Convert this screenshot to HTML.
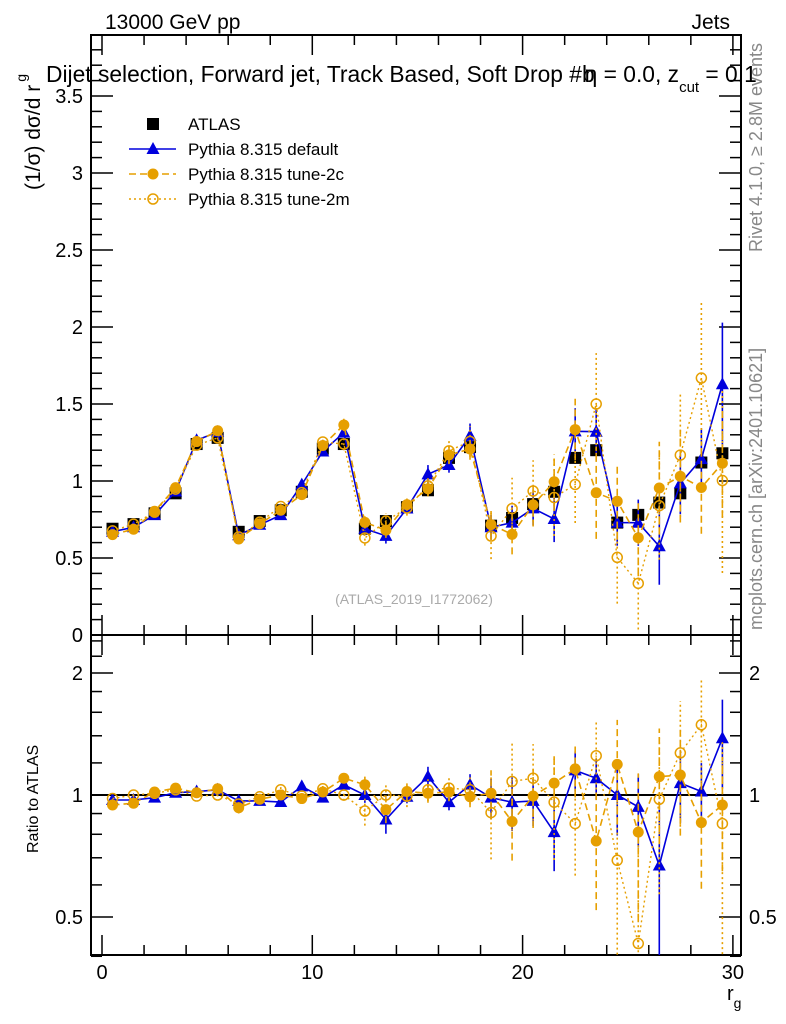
<!DOCTYPE html>
<html><head><meta charset="utf-8">
<style>
body{margin:0;background:#fff;overflow:hidden;}
svg{display:block;font-family:"Liberation Sans",sans-serif;}
</style></head>
<body>
<svg id="c" width="786" height="1024" viewBox="0 0 786 1024">
<text x="105" y="29" font-size="21">13000 GeV pp</text>
<text x="730" y="29" font-size="21" text-anchor="end">Jets</text>
<text x="46" y="82" font-size="22.8">Dijet selection, Forward jet, Track Based, Soft Drop #b<tspan dx="-10">η = 0.0, z</tspan><tspan font-size="15" dy="10">cut</tspan><tspan dy="-10"> = 0.1</tspan></text>
<g transform="translate(762,252) rotate(-90)"><text font-size="18" fill="#888">Rivet 4.1.0, ≥ 2.8M events</text></g>
<g transform="translate(762,630) rotate(-90)"><text font-size="18" fill="#888">mcplots.cern.ch [arXiv:2401.10621]</text></g>
<g transform="translate(40,190) rotate(-90)"><text font-size="21">(1/σ) dσ/d r<tspan font-size="14" dy="-14" dx="3">g</tspan></text></g>
<g transform="translate(38,853) rotate(-90)"><text font-size="16">Ratio to ATLAS</text></g>
<text x="727" y="1000" font-size="20">r<tspan font-size="14" dy="8">g</tspan></text>
<text x="414" y="604" font-size="14" fill="#aaa" text-anchor="middle">(ATLAS_2019_I1772062)</text>
<g id="legend"></g>
<g id="main"></g>
<g id="ratio"></g>
</svg>
<script>
const xCenters=[0.5,1.5,2.5,3.5,4.5,5.5,6.5,7.5,8.5,9.5,10.5,11.5,12.5,13.5,14.5,15.5,16.5,17.5,18.5,19.5,20.5,21.5,22.5,23.5,24.5,25.5,26.5,27.5,28.5,29.5];
const atlas=[0.69,0.72,0.79,0.92,1.24,1.28,0.67,0.74,0.81,0.93,1.21,1.24,0.69,0.74,0.83,0.94,1.15,1.22,0.71,0.76,0.85,0.93,1.15,1.20,0.73,0.78,0.86,0.92,1.12,1.18];
const ratioDefault=[0.972,0.972,0.985,1.013,1.02,1.03,0.967,0.967,0.961,1.05,0.985,1.06,1.0,0.87,0.99,1.11,0.96,1.06,0.985,0.96,0.967,0.81,1.15,1.10,1.0,0.935,0.67,1.07,1.02,1.38];
const ratioTune2c=[0.945,0.954,1.017,1.04,1.013,1.036,0.93,0.976,1.0,0.98,1.017,1.1,1.06,0.92,1.02,1.01,1.017,0.99,1.01,0.86,0.994,1.07,1.16,0.77,1.19,0.81,1.11,1.12,0.855,0.945];
const ratioTune2m=[0.98,1.0,1.01,1.03,0.994,1.0,0.95,0.99,1.03,0.994,1.036,1.0,0.913,1.0,0.994,1.03,1.04,1.03,0.905,1.08,1.1,0.96,0.85,1.25,0.69,0.43,0.976,1.27,1.49,0.85];
const errDefault=[0.01,0.01,0.01,0.01,0.01,0.01,0.01,0.01,0.01,0.02,0.02,0.03,0.03,0.05,0.03,0.06,0.05,0.08,0.08,0.11,0.11,0.15,0.15,0.15,0.15,0.15,0.25,0.2,0.2,0.4];
const errTune2c=[0.01,0.01,0.01,0.01,0.01,0.01,0.02,0.02,0.02,0.02,0.03,0.04,0.04,0.05,0.04,0.05,0.06,0.07,0.1,0.13,0.14,0.18,0.2,0.3,0.25,0.25,0.3,0.3,0.3,0.35];
const errTune2m=[0.01,0.01,0.01,0.01,0.01,0.01,0.02,0.02,0.02,0.03,0.03,0.04,0.05,0.05,0.05,0.06,0.08,0.1,0.15,0.2,0.2,0.25,0.25,0.33,0.3,0.3,0.35,0.4,0.5,0.6];
const yTicksMain=[0,0.5,1,1.5,2,2.5,3,3.5];
const yTickLabelsMain=["0","0.5","1","1.5","2","2.5","3","3.5"];
const xTicks=[0,10,20,30];
const ratioTicks=[0.5,1,2];
const ratioTickLabels=["0.5","1","2"];

const NS="http://www.w3.org/2000/svg";
const L=91,R=741,T=35,MB=635,RB=955;
const X=v=>102+21.03*v;
const YM=v=>635-154*v;
const YR=r=>795-122*Math.log2(r);
function mk(tag,attrs,parent){const e=document.createElementNS(NS,tag);for(const k in attrs)e.setAttribute(k,attrs[k]);parent.appendChild(e);return e;}
const main=document.getElementById('main'),ratio=document.getElementById('ratio'),leg=document.getElementById('legend');



const defs=mk('defs',{},document.getElementById('c'));
const cp1=mk('clipPath',{id:'cm'},defs);mk('rect',{x:L,y:T,width:R-L,height:MB-T},cp1);
const cp2=mk('clipPath',{id:'cr'},defs);mk('rect',{x:L,y:MB,width:R-L,height:RB-MB},cp2);

function frame(g,top,bot,name){
  const f=mk('rect',{x:L,y:top,width:R-L,height:bot-top,fill:'none',stroke:'#000','stroke-width':2},g);
  
  for(let v=0;v<=30;v+=2){const big=v%10==0;const len=big?20:10;
    mk('line',{x1:X(v),x2:X(v),y1:bot,y2:bot-len,stroke:'#000','stroke-width':1.5},g);
    mk('line',{x1:X(v),x2:X(v),y1:top,y2:top+len,stroke:'#000','stroke-width':1.5},g);}
}
frame(main,T,MB,'main-frame');
frame(ratio,MB,RB,'ratio-frame');
for(let i=0;i<=38;i++){const v=i/10;const y=YM(v);if(y<T)continue;const big=i%5==0;const len=big?22:11;
  mk('line',{x1:L,x2:L+len,y1:y,y2:y,stroke:'#000','stroke-width':1.5},main);
  mk('line',{x1:R,x2:R-len,y1:y,y2:y,stroke:'#000','stroke-width':1.5},main);}
yTicksMain.forEach((v,i)=>{const t=mk('text',{x:83,y:YM(v)+7,'font-size':20,'text-anchor':'end'},main);t.textContent=yTickLabelsMain[i];
  });
[0.4,0.5,0.6,0.7,0.8,0.9,1,1.2,1.4,1.6,1.8,2,2.2,2.4].forEach(r=>{const y=YR(r);const big=(r==0.5||r==1||r==2);const len=big?22:11;
  mk('line',{x1:L,x2:L+len,y1:y,y2:y,stroke:'#000','stroke-width':1.5},ratio);
  mk('line',{x1:R,x2:R-len,y1:y,y2:y,stroke:'#000','stroke-width':1.5},ratio);});
ratioTicks.forEach((r,i)=>{const t=mk('text',{x:83,y:YR(r)+7,'font-size':20,'text-anchor':'end'},ratio);t.textContent=ratioTickLabels[i];
  
  const t2=mk('text',{x:749,y:YR(r)+7,'font-size':20},ratio);t2.textContent=ratioTickLabels[i];
  });
xTicks.forEach(v=>{const t=mk('text',{x:X(v),y:979,'font-size':20,'text-anchor':'middle'},ratio);t.textContent=v;
  });
mk('line',{x1:L,x2:R,y1:YR(1),y2:YR(1),stroke:'#000','stroke-width':2},ratio);

const series=[
 {name:'default',ratio:ratioDefault,err:errDefault,color:'#0000dd',dash:'',marker:'tri',w:1.6},
 {name:'tune-2c',ratio:ratioTune2c,err:errTune2c,color:'#e69f00',dash:'7,4',marker:'dot',w:1.6},
 {name:'tune-2m',ratio:ratioTune2m,err:errTune2m,color:'#e69f00',dash:'2,3',marker:'ring',w:1.4}];
function marker(g,type,x,y,c){
  let m;
  if(type=='tri')m=mk('polygon',{points:`${x},${y-7} ${x-6.5},${y+5} ${x+6.5},${y+5}`,fill:c},g);
  else if(type=='dot')m=mk('circle',{cx:x,cy:y,r:5.5,fill:c},g);
  else if(type=='ring')m=mk('circle',{cx:x,cy:y,r:5,fill:'none',stroke:c,'stroke-width':1.5},g);
  else m=mk('rect',{x:x-6,y:y-6,width:12,height:12,fill:'#000'},g);
  return m;
}
const ag=mk('g',{'clip-path':'url(#cm)'},main);

atlas.forEach((v,i)=>{const m=marker(ag,'sq',X(xCenters[i]),YM(v));
  });
series.forEach(s=>{
  const gm=mk('g',{'clip-path':'url(#cm)'},main);
  
  const gr=mk('g',{'clip-path':'url(#cr)'},ratio);
  
  const vals=s.ratio.map((r,i)=>r*atlas[i]);
  const pm=vals.map((v,i)=>X(xCenters[i])+','+YM(v)).join(' ');
  const pr=s.ratio.map((r,i)=>X(xCenters[i])+','+YR(r)).join(' ');
  mk('polyline',{points:pm,fill:'none',stroke:s.color,'stroke-width':s.w,'stroke-dasharray':s.dash},gm);
  mk('polyline',{points:pr,fill:'none',stroke:s.color,'stroke-width':s.w,'stroke-dasharray':s.dash},gr);
  vals.forEach((v,i)=>{const x=X(xCenters[i]);const e=s.err[i];
    mk('line',{x1:x,x2:x,y1:YM(v-e),y2:YM(v+e),stroke:s.color,'stroke-width':1.6,'stroke-dasharray':s.dash},gm);
    const r=s.ratio[i],re=e/atlas[i];
    mk('line',{x1:x,x2:x,y1:YR(Math.max(r-re,0.05)),y2:YR(r+re),stroke:s.color,'stroke-width':1.6,'stroke-dasharray':s.dash},gr);
    const m1=marker(gm,s.marker,x,YM(v),s.color);
    
    const m2=marker(gr,s.marker,x,YR(r),s.color);
    
  });
});
const items=[['ATLAS','sq','#000',''],['Pythia 8.315 default','tri','#0000dd',''],['Pythia 8.315 tune-2c','dot','#e69f00','7,4'],['Pythia 8.315 tune-2m','ring','#e69f00','2,3']];
items.forEach((it,i)=>{const y=124+25*i;const g=mk('g',{},leg);
  
  if(i>0)mk('line',{x1:129,x2:176,y1:y,y2:y,stroke:it[2],'stroke-width':1.6,'stroke-dasharray':it[3]},g);
  marker(g,it[1],153,y,it[2]);
  const t=mk('text',{x:188,y:y+6,'font-size':17},g);t.textContent=it[0];});
</script>
</body></html>
